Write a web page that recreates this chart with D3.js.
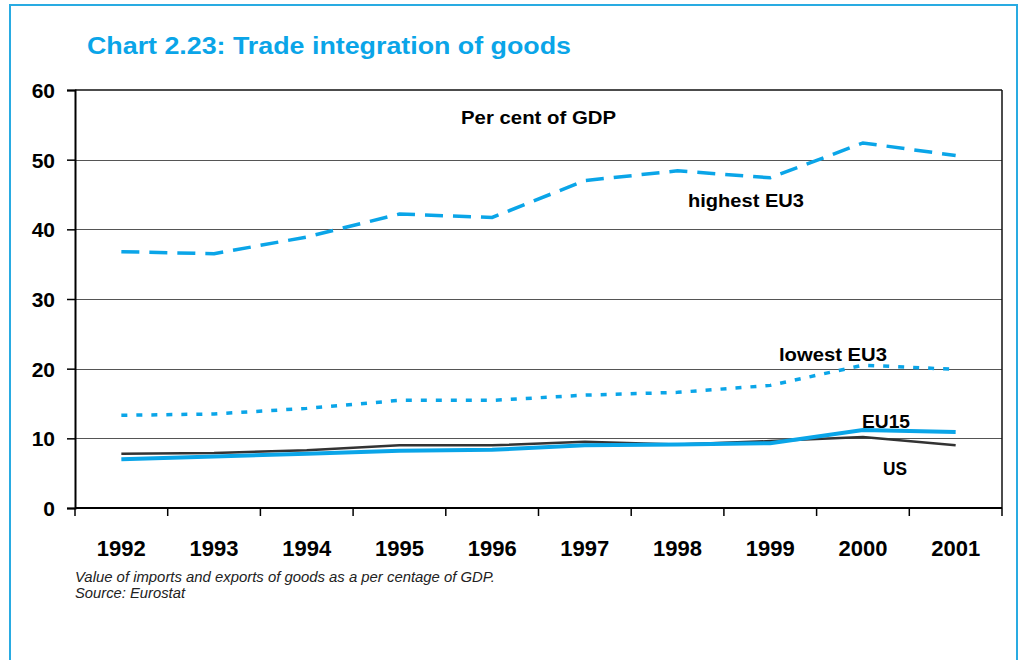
<!DOCTYPE html>
<html><head><meta charset="utf-8">
<script src="https://cdn.jsdelivr.net/npm/d3@7"></script>
<style>
html,body{margin:0;padding:0;background:#fff;}
svg{display:block;font-family:"Liberation Sans",Arial,sans-serif;}
</style></head>
<body>
<svg id="c" width="1021" height="660"></svg>
<script>
const years = ["1992","1993","1994","1995","1996","1997","1998","1999","2000","2001"];
const highestEU3 = [36.8, 36.5, 38.9, 42.2, 41.7, 47.0, 48.4, 47.4, 52.4, 50.6];
const lowestEU3  = [13.3, 13.5, 14.3, 15.45, 15.45, 16.2, 16.6, 17.6, 20.5, 19.9];
const eu15       = [7.0, 7.4, 7.8, 8.2, 8.35, 9.0, 9.1, 9.3, 11.2, 10.9];
const us         = [7.8, 7.9, 8.3, 9.0, 9.0, 9.5, 9.1, 9.6, 10.2, 9.0];
const yTicks = [0, 10, 20, 30, 40, 50, 60];

const svg = d3.select("#c");
const blue = "#0aa5e8";
const M = {left: 75, right: 1002, top: 90, bottom: 508};

// outer frame
svg.append("rect").attr("x", 10).attr("y", 5).attr("width", 1007).attr("height", 680)
  .attr("fill", "none").attr("stroke", "#29abe2").attr("stroke-width", 2);

// title
svg.append("text").attr("x", 87).attr("y", 54).attr("fill", blue)
  .attr("font-size", 24).attr("font-weight", "bold")
  .attr("textLength", 484).attr("lengthAdjust", "spacingAndGlyphs")
  .text("Chart 2.23: Trade integration of goods");

const x = d3.scaleBand().domain(years).range([M.left, M.right]);
const y = d3.scaleLinear().domain([0, 60]).range([M.bottom, M.top]);

// gridlines
svg.append("g").selectAll("line").data(yTicks.filter(d => d > 0 && d < 60)).join("line")
  .attr("x1", M.left).attr("x2", M.right)
  .attr("y1", d => Math.round(y(d)) + 0.5).attr("y2", d => Math.round(y(d)) + 0.5)
  .attr("stroke", "#555").attr("stroke-width", 1);

// plot border top and right
svg.append("line").attr("x1", M.left).attr("x2", M.right).attr("y1", y(60)).attr("y2", y(60))
  .attr("stroke", "#111").attr("stroke-width", 1.5);
svg.append("line").attr("x1", M.right).attr("x2", M.right).attr("y1", y(60)).attr("y2", y(0))
  .attr("stroke", "#111").attr("stroke-width", 1.5);

// y axis
const yAxis = d3.axisLeft(y).tickValues(yTicks).tickSize(8).tickPadding(12);
const gy = svg.append("g").attr("transform", `translate(${M.left},0)`).call(yAxis);
gy.select(".domain").attr("stroke", "#000").attr("stroke-width", 2);
gy.selectAll(".tick line").attr("stroke", "#000").attr("stroke-width", 1.5);
gy.selectAll(".tick text").attr("font-size", 21).attr("font-weight", "bold").attr("fill", "#000")
  .attr("font-family", "Liberation Sans, Arial, sans-serif").attr("dy", "0.36em");

// x axis: ticks at band boundaries
const gx = svg.append("g").attr("transform", `translate(0,${M.bottom})`);
gx.append("line").attr("x1", M.left).attr("x2", M.right).attr("y1", 0).attr("y2", 0)
  .attr("stroke", "#000").attr("stroke-width", 2);
const bounds = years.map(d => x(d)).concat([M.right]);
gx.selectAll("line.tk").data(bounds).join("line").attr("class", "tk")
  .attr("x1", d => d).attr("x2", d => d).attr("y1", 0).attr("y2", 8)
  .attr("stroke", "#000").attr("stroke-width", 1.5);
gx.selectAll("text").data(years).join("text")
  .attr("x", d => x(d) + x.bandwidth() / 2).attr("y", 48)
  .attr("text-anchor", "middle").attr("font-size", 22).attr("font-weight", "bold")
  .text(d => d);

// lines
const line = d3.line().x((d, i) => x(years[i]) + x.bandwidth() / 2).y(d => y(d));
svg.append("path").datum(us).attr("d", line).attr("fill", "none")
  .attr("stroke", "#333").attr("stroke-width", 2.5);
svg.append("path").datum(eu15).attr("d", line).attr("fill", "none")
  .attr("stroke", blue).attr("stroke-width", 4);
svg.append("path").datum(lowestEU3).attr("d", line).attr("fill", "none")
  .attr("stroke", blue).attr("stroke-width", 3.5).attr("stroke-dasharray", "6,9");
svg.append("path").datum(highestEU3).attr("d", line).attr("fill", "none")
  .attr("stroke", blue).attr("stroke-width", 3.5).attr("stroke-dasharray", "18,10");

// annotations
const ann = [
  {t: "Per cent of GDP", x: 461, y: 124, w: 155},
  {t: "highest EU3", x: 688, y: 207, w: 116},
  {t: "lowest EU3", x: 779, y: 361, w: 108},
  {t: "EU15", x: 862, y: 428, w: 48},
  {t: "US", x: 883, y: 475, w: 24}
];
svg.append("g").selectAll("text").data(ann).join("text")
  .attr("x", d => d.x).attr("y", d => d.y)
  .attr("font-size", 18).attr("font-weight", "bold").attr("fill", "#000")
  .attr("textLength", d => d.w).attr("lengthAdjust", "spacingAndGlyphs")
  .text(d => d.t);

// footnotes
svg.append("text").attr("x", 75).attr("y", 582).attr("font-size", 14).attr("font-style", "italic")
  .attr("fill", "#222").attr("textLength", 420).attr("lengthAdjust", "spacingAndGlyphs")
  .text("Value of imports and exports of goods as a per centage of GDP.");
svg.append("text").attr("x", 75).attr("y", 598).attr("font-size", 14).attr("font-style", "italic")
  .attr("fill", "#222").attr("textLength", 110).attr("lengthAdjust", "spacingAndGlyphs")
  .text("Source: Eurostat");
</script>
</body></html>
